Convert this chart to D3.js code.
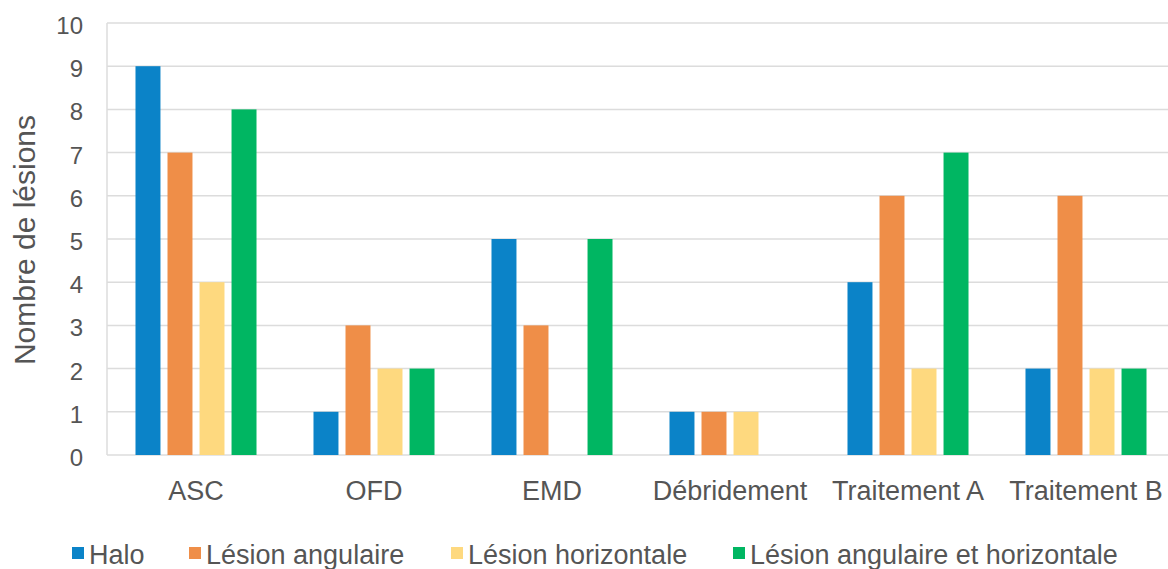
<!DOCTYPE html>
<html>
<head>
<meta charset="utf-8">
<script src="https://cdn.jsdelivr.net/npm/d3@7"></script>
<style>
  body { margin: 0; background: #fff; }
  text { font-family: "Liberation Sans", Arial, sans-serif; fill: #555; }
</style>
</head>
<body>
<script>
// Data
const categories = ['ASC', 'OFD', 'EMD', 'Débridement', 'Traitement A', 'Traitement B'];
const seriesNames = ['Halo', 'Lésion angulaire', 'Lésion horizontale', 'Lésion angulaire et horizontale'];
const halo = [9, 1, 5, 1, 4, 2];
const angulaire = [7, 3, 3, 1, 6, 6];
const horizontale = [4, 2, 0, 1, 2, 2];
const angHoriz = [8, 2, 5, 0, 7, 2];
const yTicks = [0, 1, 2, 3, 4, 5, 6, 7, 8, 9, 10];

const colors = ['#0b83c8', '#ef8e48', '#fed97f', '#00b662'];
const seriesValues = [halo, angulaire, horizontale, angHoriz];

let svg = d3.select('body')
  .append('svg')
  .attr('width', 1168)
  .attr('height', 569);

// scales
let x0 = d3.scaleBand()
  .domain(categories)
  .range([107, 1175]);

let x1 = d3.scaleBand()
  .domain(seriesNames)
  .range([0, x0.bandwidth()])
  .paddingInner(0.22)
  .paddingOuter(0.89);

let y = d3.scaleLinear()
  .domain([0, 10])
  .range([455, 23]);

// gridlines
svg.append('g')
  .selectAll('line')
  .data(yTicks)
  .enter()
  .append('line')
  .attr('x1', 107)
  .attr('x2', 1175)
  .attr('y1', (d) => y(d))
  .attr('y2', (d) => y(d))
  .attr('stroke', '#dcdcdc')
  .attr('stroke-width', 1.5);

svg.append('line')
  .attr('x1', 107)
  .attr('x2', 107)
  .attr('y1', y(10))
  .attr('y2', y(0))
  .attr('stroke', '#dcdcdc')
  .attr('stroke-width', 1.5);

// y tick labels
svg.append('g')
  .selectAll('text')
  .data(yTicks)
  .enter()
  .append('text')
  .attr('x', 83)
  .attr('y', (d) => y(d) + 11)
  .attr('text-anchor', 'end')
  .style('font-size', '24px')
  .text((d) => d);

// bars
const rows = [];
categories.forEach((c, i) => {
  seriesNames.forEach((s, j) => {
    rows.push({ cat: c, series: s, value: seriesValues[j][i], color: colors[j] });
  });
});

svg.append('g')
  .selectAll('rect')
  .data(rows.filter((d) => d.value > 0))
  .enter()
  .append('rect')
  .attr('x', (d) => x0(d.cat) + x1(d.series))
  .attr('y', (d) => y(d.value))
  .attr('width', x1.bandwidth())
  .attr('height', (d) => y(0) - y(d.value))
  .attr('fill', (d) => d.color);

// category labels
svg.append('g')
  .selectAll('text')
  .data(categories)
  .enter()
  .append('text')
  .attr('x', (d) => x0(d) + x0.bandwidth() / 2)
  .attr('y', 500)
  .attr('text-anchor', 'middle')
  .style('font-size', '27px')
  .text((d) => d);

// y title
svg.append('text')
  .attr('transform', 'translate(35, 240)rotate(-90)')
  .attr('text-anchor', 'middle')
  .style('font-size', '30px')
  .text('Nombre de lésions');

// legend
const legendX = [72, 189, 451, 733];
let legend = svg.append('g')
  .selectAll('g')
  .data(seriesNames)
  .enter()
  .append('g')
  .attr('transform', (d, i) => 'translate(' + legendX[i] + ', 0)');

legend.append('rect')
  .attr('x', 0)
  .attr('y', 547)
  .attr('width', 12)
  .attr('height', 12)
  .attr('fill', (d, i) => colors[i]);

legend.append('text')
  .attr('x', 17)
  .attr('y', 564)
  .style('font-size', '27px')
  .text((d) => d);
</script>
</body>
</html>
